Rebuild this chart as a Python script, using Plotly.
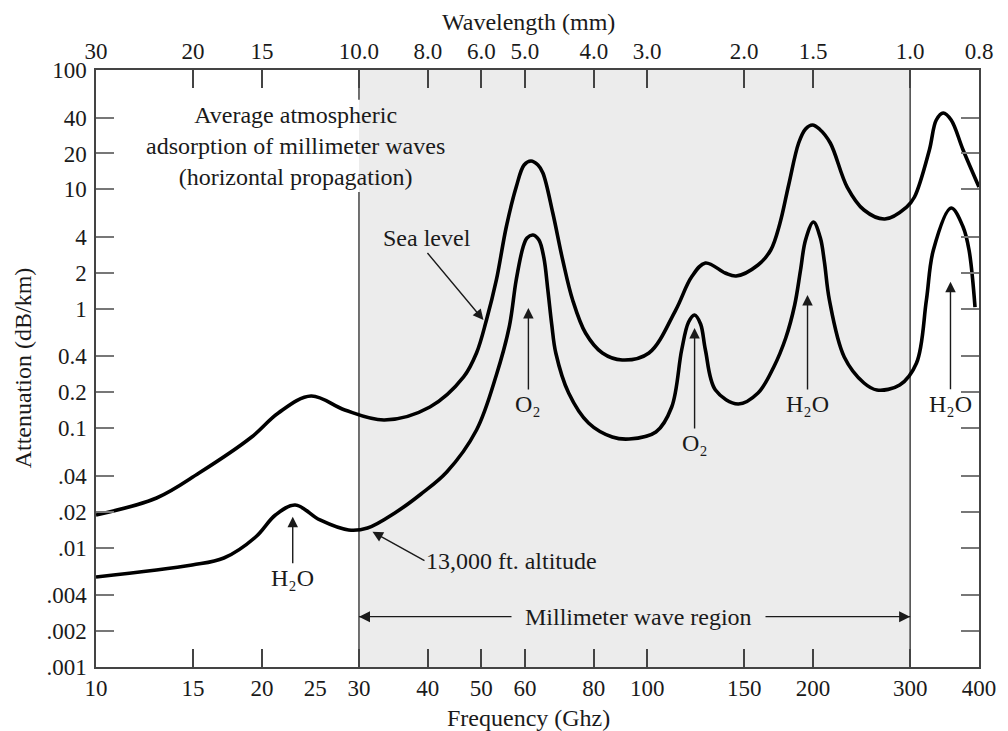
import math
import plotly.graph_objects as go

# ---------------- data ----------------
freq_sea = [10.0, 12.88, 15.38, 19.16, 21.42, 24.56, 28.27, 33.36, 40.35, 46.45,
            49.02, 51.10, 53.26, 55.51, 57.86, 59.80, 61.55, 63.37, 64.69, 67.42,
            70.27, 73.25, 77.30, 82.94, 90.10, 100.75, 112.66, 120.36, 127.55, 138.58,
            145.03, 158.9, 167.6, 174.0, 180.6, 188.3, 193.8, 199.5, 205.3, 214.9,
            230.6, 247.4, 269.9, 295.6, 305.5, 325.1, 334.6, 344.5, 356.1, 374.3,
            400.0]
att_sea = [0.01875, 0.02603, 0.04214, 0.08439, 0.1341, 0.1861, 0.1421, 0.1171, 0.1505, 0.2685,
           0.4264, 0.8058, 1.743, 4.843, 10.47, 16.01, 17.30, 16.01, 13.72, 6.343,
           2.563, 1.185, 0.6270, 0.4264, 0.3726, 0.4264, 0.9770, 1.846, 2.419, 1.994,
           1.882, 2.327, 3.108, 5.131, 10.89, 24.47, 32.05, 34.63, 32.05, 24.47,
           10.47, 6.722, 5.651, 7.121, 8.637, 21.38, 38.13, 43.63, 38.13, 21.38,
           10.47]

freq_alt = [10.0, 14.94, 17.06, 19.48, 21.16, 22.98, 25.49, 28.73, 31.09, 35.06,
            38.88, 43.29, 49.02, 53.26, 56.20, 57.86, 59.55, 60.54, 62.06, 63.63,
            64.96, 66.04, 67.14, 68.27, 72.04, 78.27, 86.44, 92.74, 103.71, 110.8,
            115.5, 118.9, 121.9, 125.0, 127.55, 133.0, 146.2, 158.9, 169.7, 178.4,
            185.2, 189.8, 193.8, 200.3, 206.2, 209.7, 214.1, 227.8, 247.4, 261.1,
            287.2, 308.1, 321.1, 330.6, 356.1, 374.3, 383.7, 393.4]
att_alt = [0.005672, 0.007152, 0.008181, 0.01227, 0.01875, 0.02274, 0.01703, 0.01404, 0.01459, 0.01987,
           0.02812, 0.04297, 0.09658, 0.2791, 0.7041, 1.743, 3.293, 3.917, 4.151, 3.770,
           2.665, 1.437, 0.7317, 0.4264, 0.1971, 0.1105, 0.08439, 0.08118, 0.09294, 0.1505,
           0.4518, 0.7751, 0.8873, 0.7459, 0.4518, 0.2089, 0.1595, 0.1971, 0.3255, 0.5692,
           1.076, 2.113, 3.770, 5.333, 3.917, 2.466, 1.185, 0.3948, 0.2391, 0.2089,
           0.2300, 0.3517, 1.185, 3.108, 6.985, 4.843, 3.108, 1.035]

freq_ticks = [10, 15, 20, 25, 30, 40, 50, 60, 80, 100, 150, 200, 300, 400]
freq_labels = ["10", "15", "20", "25", "30", "40", "50", "60", "80", "100", "150", "200", "300", "400"]

wave_ticks = [10, 15, 20, 30, 40, 50, 60, 80, 100, 150, 200, 300, 400]
wave_labels = ["30", "20", "15", "10.0", "8.0", "6.0", "5.0", "4.0", "3.0", "2.0", "1.5", "1.0", "0.8"]

att_ticks = [100, 40, 20, 10, 4, 2, 1, 0.4, 0.2, 0.1, 0.04, 0.02, 0.01, 0.004, 0.002, 0.001]
att_labels = ["100", "40", "20", "10", "4", "2", "1", "0.4", "0.2", "0.1",
              ".04", ".02", ".01", ".004", ".002", ".001"]

band_lo, band_hi = 30, 300

# ---------------- figure ----------------
FONT = "Liberation Serif"
INK = "#1a1a1a"
AX = "#444444"
SHADE = "#ececec"
xr = [math.log10(10), math.log10(400)]
yr = [-3, 2]

fig = go.Figure()
fig.add_trace(go.Scatter(x=freq_sea, y=att_sea, mode="lines", xaxis="x", yaxis="y",
                         line=dict(color="black", width=3.6, shape="spline", smoothing=1.0),
                         showlegend=False, hoverinfo="skip", name="Sea level"))

# double-headed "Millimeter wave region" arrow spanning the band
band_arrow_frac = 0.0843
band_arrow_y = 10 ** (yr[0] + (yr[1] - yr[0]) * band_arrow_frac)
fig.add_trace(go.Scatter(x=[band_lo, band_hi], y=[band_arrow_y, band_arrow_y],
                         mode="lines+markers", xaxis="x", yaxis="y",
                         line=dict(color=INK, width=1.4),
                         marker=dict(symbol=["arrow-left", "arrow-right"], size=11, color=INK,
                                     line=dict(width=0)),
                         showlegend=False, hoverinfo="skip", name="Millimeter wave region"))

fig.add_trace(go.Scatter(x=freq_alt, y=att_alt, mode="lines", xaxis="x2", yaxis="y",
                         line=dict(color="black", width=3.6, shape="spline", smoothing=1.0),
                         showlegend=False, hoverinfo="skip", name="13,000 ft. altitude"))

shapes = [
    dict(type="rect", xref="x", yref="paper", x0=band_lo, x1=band_hi, y0=0, y1=1,
         fillcolor=SHADE, line=dict(width=0), layer="below"),
    dict(type="line", xref="x", yref="paper", x0=band_lo, x1=band_lo, y0=0.7956, y1=0,
         line=dict(color=AX, width=1.5), layer="below"),
    dict(type="line", xref="x", yref="paper", x0=band_lo, x1=band_lo, y0=1, y1=0.95,
         line=dict(color=AX, width=1.5), layer="below"),
    dict(type="line", xref="x", yref="paper", x0=band_hi, x1=band_hi, y0=0, y1=1,
         line=dict(color=AX, width=1.5), layer="below"),
]

tf = dict(family=FONT, size=23, color=INK)
af = dict(family=FONT, size=24, color=INK)

ann = []
def text(t, x, y, xa="center", ya="middle", **kw):
    d = dict(text=t, x=x, y=y, xref="paper", yref="paper", showarrow=False,
             xanchor=xa, yanchor=ya, font=af)
    d.update(kw)
    ann.append(d)

def label_arrow(t, x, y, ax, ay, xa="auto", ya="auto"):
    # text placed at the tail, arrow pointing at (x, y)
    ann.append(dict(text=t, x=x, y=y, xref="paper", yref="paper", ax=ax, ay=ay,
                    xanchor=xa, yanchor=ya, font=af,
                    showarrow=True, arrowhead=2, arrowsize=1.5, arrowwidth=1.4,
                    arrowcolor=INK, standoff=0, startstandoff=0))

O2 = "O\u2082"
H2O = "H\u2082O"

text("Average atmospheric<br>adsorption of millimeter waves<br>(horizontal propagation)",
     0.2261, 0.8727, align="center")
label_arrow("Sea level", 0.4388, 0.5812, -56, -67, xa="center", ya="bottom")
label_arrow("13,000 ft. altitude", 0.3131, 0.2266, 52, 29, xa="left", ya="middle")
label_arrow(O2, 0.4897, 0.6013, 0, 96)
label_arrow(O2, 0.6779, 0.5678, 0, 115)
label_arrow(H2O, 0.8058, 0.6231, 0, 109)
label_arrow(H2O, 0.9677, 0.6454, 0, 122)
label_arrow(H2O, 0.2228, 0.2518, 0, 61)
text("Millimeter wave region", 0.6139, band_arrow_frac, bgcolor=SHADE, borderpad=13)
text("Wavelength (mm)", 0.490, 1.0809)
text("Frequency (Ghz)", 0.4893, -0.0854)
text("Attenuation (dB/km)", -0.0823, 0.5008, textangle=-90)

# the page body has an 8px margin, so the figure is 8px smaller each way
fig.update_layout(
    width=1000, height=723,
    margin=dict(l=88, r=21, t=62, b=64),
    paper_bgcolor="white", plot_bgcolor="white",
    font=dict(family=FONT, color=INK),
    shapes=shapes, annotations=ann,
    xaxis=dict(type="log", range=xr, tickmode="array", tickvals=freq_ticks, ticktext=freq_labels,
               ticks="", showline=True, linecolor=AX, linewidth=1.5, mirror=True,
               showgrid=False, zeroline=False, tickfont=tf, ticklabelstandoff=0),
    xaxis2=dict(type="log", range=xr, overlaying="x", anchor="y", side="top",
                tickmode="array", tickvals=wave_ticks, ticktext=wave_labels,
                ticks="inside", ticklen=18, tickwidth=1.5, tickcolor=AX, mirror="ticks",
                showline=True, linecolor=AX, linewidth=1.5,
                showgrid=False, zeroline=False, tickfont=tf, ticklabelstandoff=0),
    yaxis=dict(type="log", range=yr, tickmode="array", tickvals=att_ticks, ticktext=att_labels,
               ticks="inside", ticklen=18, tickwidth=1.5, tickcolor="#777777",
               showline=True, linecolor=AX, linewidth=1.5, mirror="ticks",
               showgrid=False, zeroline=False, tickfont=tf, ticklabelstandoff=3),
)

fig.write_html("out.html")
